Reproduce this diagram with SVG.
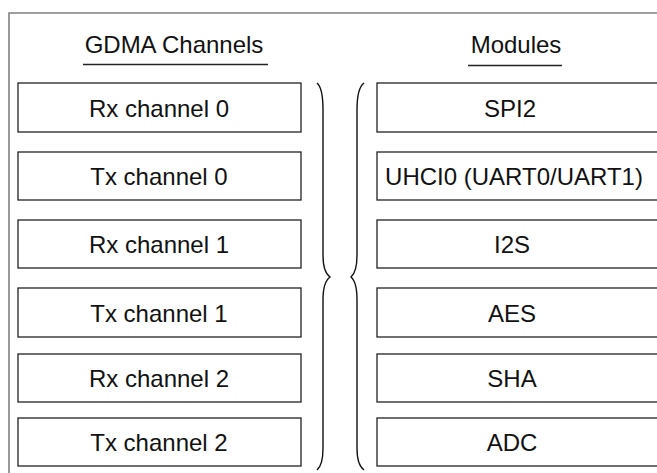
<svg xmlns="http://www.w3.org/2000/svg" width="657" height="473" viewBox="0 0 657 473">
<style>
.box{fill:#fff;stroke:#222;stroke-width:1.3}
.t{font-family:"Liberation Sans",Arial,sans-serif;font-size:24px;fill:#111;text-anchor:middle}
.ul{stroke:#222;stroke-width:1.3}
.br{fill:none;stroke:#111;stroke-width:1.4}
.frame{fill:none;stroke:#808080;stroke-width:1.6}
</style>
<rect width="657" height="473" fill="#fff"/>
<path class="frame" d="M9,473 L9,13 L657,13"/>
<g id="heading-gdma"><text class="t" x="174" y="53">GDMA Channels</text><line class="ul" x1="83" y1="64.5" x2="268" y2="64.5"/></g>
<g id="heading-modules"><text class="t" x="516" y="53">Modules</text><line class="ul" x1="468" y1="65.5" x2="562" y2="65.5"/></g>
<g id="rx0"><rect class="box" x="18" y="83" width="283" height="49"/><text class="t" x="159" y="116.5">Rx channel 0</text></g>
<g id="tx0"><rect class="box" x="18" y="152" width="283" height="48"/><text class="t" x="159" y="185">Tx channel 0</text></g>
<g id="rx1"><rect class="box" x="18" y="220" width="283" height="48"/><text class="t" x="159" y="253">Rx channel 1</text></g>
<g id="tx1"><rect class="box" x="18" y="288" width="283" height="49"/><text class="t" x="159" y="321.5">Tx channel 1</text></g>
<g id="rx2"><rect class="box" x="18" y="354" width="283" height="48"/><text class="t" x="159" y="387">Rx channel 2</text></g>
<g id="tx2"><rect class="box" x="18" y="418" width="283" height="48"/><text class="t" x="159" y="451">Tx channel 2</text></g>
<g id="spi2"><rect class="box" x="377" y="83" width="300" height="49"/><text class="t" x="510" y="116.5">SPI2</text></g>
<g id="uhci0"><rect class="box" x="377" y="152" width="300" height="48"/><text class="t" x="514" y="185">UHCI0 (UART0/UART1)</text></g>
<g id="i2s"><rect class="box" x="377" y="220" width="300" height="48"/><text class="t" x="512" y="253">I2S</text></g>
<g id="aes"><rect class="box" x="377" y="288" width="300" height="49"/><text class="t" x="512" y="321.5">AES</text></g>
<g id="sha"><rect class="box" x="377" y="354" width="300" height="48"/><text class="t" x="512" y="387">SHA</text></g>
<g id="adc"><rect class="box" x="377" y="418" width="300" height="48"/><text class="t" x="512" y="451">ADC</text></g>
<g id="connectors">
<path class="br" d="M317,83 Q323,88 323,110 L323,255 Q323,272 330,277 Q323,282 323,300 L323,448 Q323,465 317,470"/>
<path class="br" d="M364,83 Q357,88 357,110 L357,255 Q357,272 351,277 Q357,282 357,300 L357,448 Q357,465 364,470"/>
</g>
</svg>
